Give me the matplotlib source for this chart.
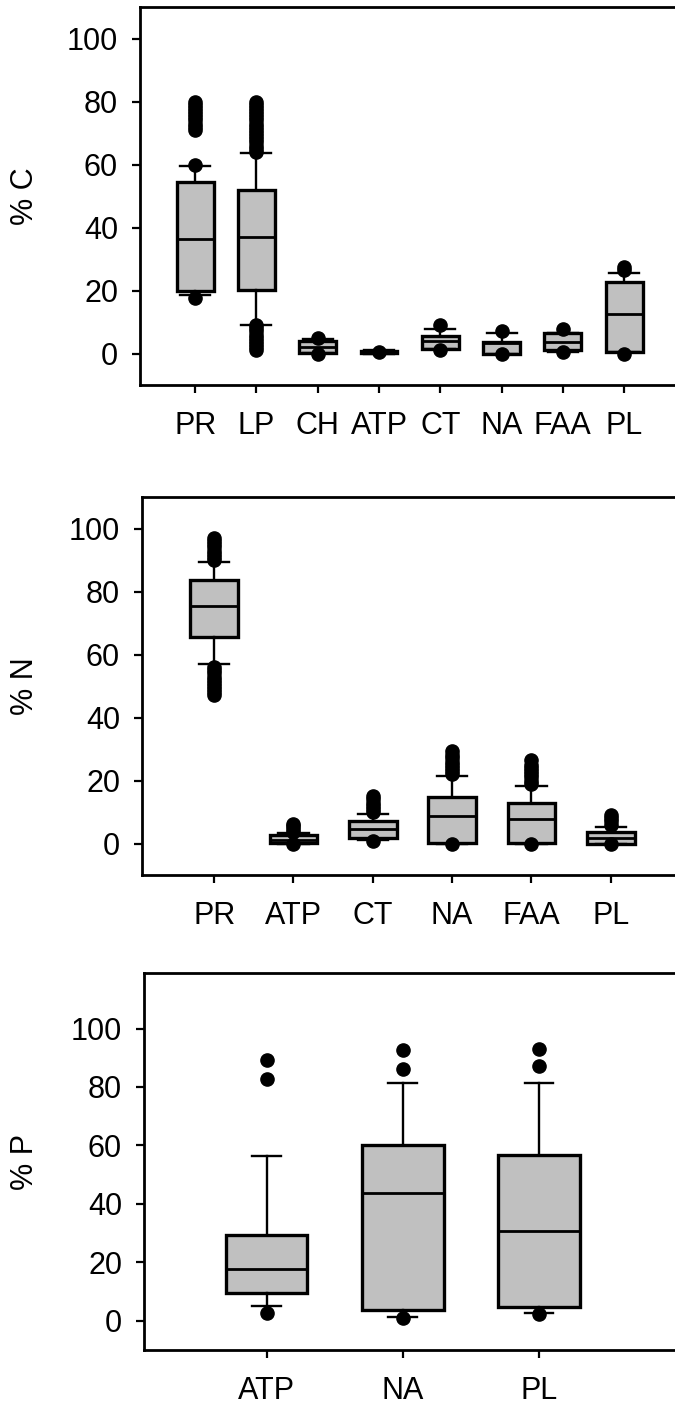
import matplotlib
matplotlib.use("Agg")
import matplotlib.pyplot as plt

plt.rcParams['font.family'] = ['Liberation Sans', 'DejaVu Sans']
plt.rcParams['font.size'] = 22

# ---- panel 1: % C ----
c_labels = ['PR', 'LP', 'CH', 'ATP', 'CT', 'NA', 'FAA', 'PL']
c_q1 = [20.0, 20.3, 0.3, 0.2, 1.5, 0.0, 1.0, 0.6]
c_med = [36.4, 36.9, 2.0, 0.5, 4.1, 3.3, 3.6, 12.4]
c_q3 = [54.6, 52.0, 4.1, 0.8, 5.7, 3.6, 6.4, 22.6]
c_lo = [18.7, 9.2, 0.1, 0.0, 1.3, 0.0, 0.6, 0.4]
c_hi = [59.5, 63.6, 4.5, 1.2, 7.8, 6.5, 6.5, 25.5]
c_fliers = [
    [60, 71, 72, 73, 74, 75, 76, 77, 78, 79, 80, 17.5],
    [64, 65, 66, 67, 68, 69, 70, 71, 72, 73, 74, 75, 76, 77, 78, 79, 80,
     1, 2, 3, 4, 5, 6, 7, 8, 9],
    [5.0, 0.0],
    [0.4],
    [9.0, 1.2],
    [7.3, 0.0],
    [7.8, 0.4],
    [26.5, 27.5, 0.0],
]

# ---- panel 2: % N ----
n_labels = ['PR', 'ATP', 'CT', 'NA', 'FAA', 'PL']
n_q1 = [65.7, 0.3, 1.9, 0.3, 0.3, 0.0]
n_med = [75.3, 1.2, 4.6, 8.6, 7.8, 1.9]
n_q3 = [83.5, 2.8, 7.0, 14.8, 12.8, 3.8]
n_lo = [57.0, 0.0, 1.2, 0.0, 0.0, 0.0]
n_hi = [89.3, 3.3, 9.3, 21.3, 18.3, 5.1]
n_fliers = [
    [90, 91, 92, 93, 94, 95, 96, 97, 47, 48, 49, 50, 51, 52, 53, 54, 55, 56],
    [3.5, 4.5, 5.5, 6.2, -0.1],
    [10, 11, 12, 13, 14, 15, 0.9],
    [22, 23, 24, 25, 26, 27, 28, 29.5, 0.0],
    [19, 20, 21, 22, 23, 24, 25, 26.5, 0.0],
    [6, 7, 8, 9, 0.0],
]

# ---- panel 3: % P ----
p_labels = ['ATP', 'NA', 'PL']
p_q1 = [9.6, 3.7, 4.8]
p_med = [17.6, 43.6, 30.8]
p_q3 = [29.2, 60.3, 56.8]
p_lo = [5.0, 1.4, 2.7]
p_hi = [56.3, 81.5, 81.2]
p_fliers = [
    [89.1, 82.6, 2.7],
    [92.5, 86.2, 1.0],
    [93.1, 87.3, 2.3],
]

panels = [
    ('% C', c_labels, c_q1, c_med, c_q3, c_lo, c_hi, c_fliers,
     [140, 7, 385], (0.1, 8.83), (-10, 110), 0.49),
    ('% N', n_labels, n_q1, n_med, n_q3, n_lo, n_hi, n_fliers,
     [142, 497, 875], (0.09, 6.81), (-10, 110), 0.38),
    ('% P', p_labels, p_q1, p_med, p_q3, p_lo, p_hi, p_fliers,
     [144, 973, 1350], (0.1, 4.0), (-10, 119), 0.21),
]

W, H = 675, 1404
fig = plt.figure(figsize=(W / 100, H / 100), dpi=100)

for (ylab, labels, q1, med, q3, lo, hi, fl, px, xl, yl, capw) in panels:
    left, top, bottom = px
    ax = fig.add_axes([left / W, 1 - bottom / H, 1 - left / W, (bottom - top) / H])
    stats = []
    for i in range(len(labels)):
        stats.append(dict(label=labels[i], q1=q1[i], med=med[i], q3=q3[i],
                          whislo=lo[i], whishi=hi[i], fliers=fl[i]))
    ax.bxp(stats, positions=range(1, len(labels) + 1), widths=0.6,
           patch_artist=True, capwidths=capw,
           boxprops=dict(facecolor='#c0c0c0', edgecolor='black', linewidth=2.4),
           medianprops=dict(color='black', linewidth=2.0),
           whiskerprops=dict(color='black', linewidth=1.7),
           capprops=dict(color='black', linewidth=1.7),
           flierprops=dict(marker='o', markerfacecolor='black',
                           markeredgecolor='black', markersize=9.5))
    ax.set_xlim(*xl)
    ax.set_ylim(*yl)
    ax.set_yticks([0, 20, 40, 60, 80, 100])
    ax.spines['right'].set_visible(False)
    for s in ['left', 'top', 'bottom']:
        ax.spines[s].set_linewidth(2.0)
    ax.tick_params(axis='both', direction='out', length=5.8, width=1.6)
    ax.tick_params(axis='y', pad=10)
    ax.tick_params(axis='x', pad=13)
    fig.text(25 / W, 1 - (top + bottom) / 2 / H, ylab, rotation=90,
             ha='center', va='center', fontsize=22)

fig.savefig('out.png', dpi=100)
